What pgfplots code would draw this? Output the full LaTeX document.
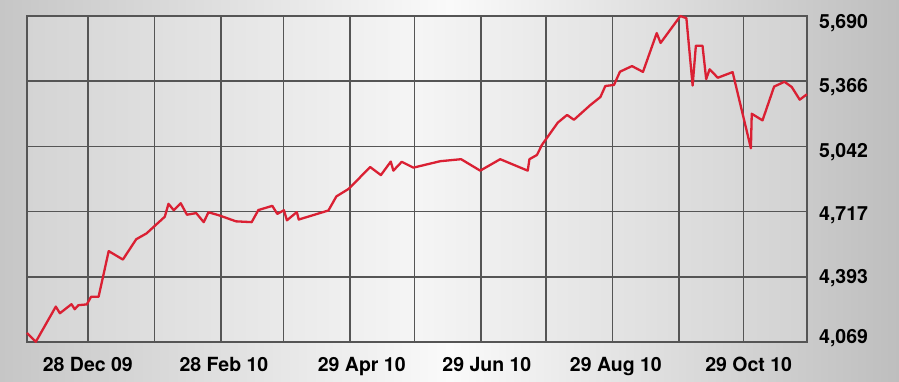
\documentclass[border=0pt]{standalone}
\usepackage{fontspec}
\setmainfont{TeX Gyre Heros}
\usepackage{pgfplots}
\pgfplotsset{compat=1.18}
\definecolor{gridc}{HTML}{555555}
\definecolor{linec}{HTML}{DA2033}
\definecolor{bgL}{RGB}{198,198,198}
\definecolor{bgM}{RGB}{250,250,250}
\definecolor{bgR}{RGB}{190,190,190}
\definecolor{paL}{RGB}{212,212,212}
\definecolor{paM}{RGB}{245,245,245}
\definecolor{paR}{RGB}{210,210,210}
\begin{document}
\begin{tikzpicture}
\shade[left color=bgL, right color=bgR, middle color=bgM] (0,0) rectangle (899pt,381pt);
\begin{axis}[
  at={(27pt,39pt)}, anchor=south west,
  scale only axis, width=780pt, height=326pt,
  axis background/.style={left color=paL, right color=paR, middle color=paM},
  xmin=-28.3, xmax=334.5, ymin=4069, ymax=5690,
  xtick={0,31,62,91,122,152,183,213,244,275,305},
  xticklabels={,,,,,,,,,,,},
  extra x ticks={0,63.3,127.4,185.6,245.6,307.4},
  extra x tick labels={28 Dec 09,28 Feb 10,29 Apr 10,29 Jun 10,29 Aug 10,29 Oct 10},
  extra x tick style={grid=none, major tick length=0pt},
  xticklabel style={anchor=base, inner sep=0pt, yshift=-29pt},
  ytick={4069,4393.2,4717.4,5041.6,5365.8,5690},
  yticklabels={\raisebox{-1.85pt}{4,069},\raisebox{-6.85pt}{4,393},\raisebox{-8.85pt}{4,717},\raisebox{-10.85pt}{5,042},\raisebox{-10.85pt}{5,366},\raisebox{-12.85pt}{5,690}},
  yticklabel pos=right,
  yticklabel style={anchor=base west, inner sep=0pt, xshift=12pt},
  ticklabel style={font=\fontsize{19.5}{20}\selectfont\bfseries, text=black},
  major tick length=0pt,
  grid=major,
  grid style={gridc, line width=1.7pt},
  axis line style={gridc, line width=1.7pt},
  clip=false,
]
\addplot[linec, line width=2.3pt, line join=round] coordinates {
(-28.3,4114) (-24.2,4070) (-14.9,4245) (-13.0,4212) (-7.6,4257) (-6.1,4232) (-4.4,4252) (-0.5,4256)
(1.5,4294) (5.0,4294) (9.7,4521) (16.3,4479) (22.5,4580) (27.3,4609) (35.8,4692) (37.5,4756)
(40.0,4724) (43.2,4759) (46.1,4702) (50.4,4710) (53.9,4665) (56.1,4714) (61.0,4699) (68.9,4669)
(76.2,4665) (79.3,4725) (85.8,4746) (88.1,4706) (91.2,4724) (92.6,4674) (97.2,4715) (98.1,4678)
(111.9,4723) (115.6,4793) (121.4,4831) (131.3,4939) (136.3,4899) (140.9,4966) (142.1,4921) (146.0,4965)
(151.4,4936) (163.9,4968) (173.6,4978) (182.5,4921) (191.8,4978) (204.6,4921) (205.4,4978) (208.9,4999)
(211.2,5049) (218.6,5160) (222.9,5198) (226.1,5174) (233.7,5247) (238.4,5287) (240.7,5342) (244.7,5347)
(247.5,5413) (253.1,5441) (258.2,5412) (264.6,5605) (266.4,5556) (275.6,5690) (278.4,5679) (281.3,5344)
(282.8,5542) (285.9,5542) (287.6,5376) (289.2,5425) (293.0,5383) (299.9,5411) (308.4,5032) (308.8,5204)
(313.8,5171) (319.2,5339) (324.0,5363) (327.4,5337) (331.1,5274) (334.5,5301)
};
\end{axis}
\end{tikzpicture}
\end{document}
